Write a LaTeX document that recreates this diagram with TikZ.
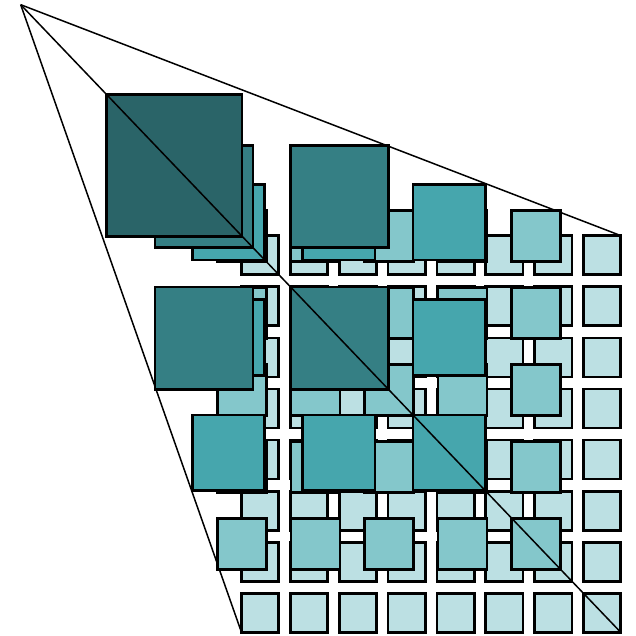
\documentclass[tikz,border=0pt]{standalone}
\usepackage{tikz}
\definecolor{cL0}{HTML}{BCE0E3}
\definecolor{cL1}{HTML}{84C7CB}
\definecolor{cL2}{HTML}{46A6AD}
\definecolor{cL3}{HTML}{357F84}
\definecolor{cL4}{HTML}{2A6468}
\tikzset{
  sq/.style={draw=black, line width=1.35pt, line join=miter},
  ray/.style={draw=black, line width=0.75pt},
}
% n, x0, pitch, width, colour
\newcommand{\pyrlayer}[5]{%
  \pgfmathtruncatemacro{\nn}{#1-1}%
  \foreach \i in {0,...,\nn}{%
    \foreach \j in {0,...,\nn}{%
      \pgfmathsetmacro{\xa}{#2+\i*#3}%
      \pgfmathsetmacro{\ya}{#2-16.21+\j*#3}%
      \draw[sq, fill=#5] (\xa,\ya) rectangle ++(#4,#4);
    }}}
\begin{document}
\begin{tikzpicture}[x=0.5pt, y=-0.523pt]
  \useasboundingbox (0,0) rectangle (636,607.1);
  \coordinate (apex) at (20.7,4.49);
  \coordinate (bl) at (241.5,604.61);
  \coordinate (tr) at (620.82,225.29);
  \coordinate (br) at (620.82,604.61);
  \draw[ray] (apex) -- (bl);
  \draw[ray] (apex) -- (tr);
  \pyrlayer{8}{241.5}{48.86}{37.3}{cL0}
  \pyrlayer{5}{217.3}{73.6}{49}{cL1}
  \pyrlayer{3}{192.3}{110.3}{72.5}{cL2}
  \pyrlayer{2}{155}{135.7}{98}{cL3}
  \pyrlayer{1}{106.7}{0}{135.3}{cL4}
  \draw[ray] (apex) -- (br);
\end{tikzpicture}
\end{document}
